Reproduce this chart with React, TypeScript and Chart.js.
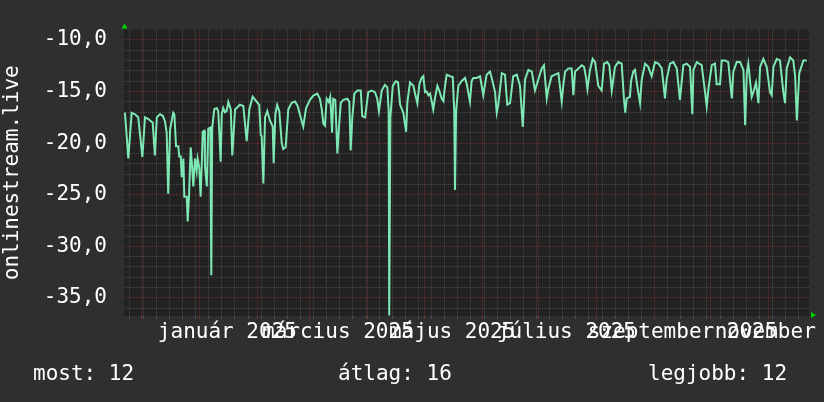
import React, { useEffect, useRef } from 'react';
import { Chart, registerables } from 'chart.js';

Chart.register(...registerables);

// ---- data (days counted from 2025-01-01, values as plotted) ----
const seriesName = 'onlinestream.live';

const sampleDays = [
  -39.7, -37.9, -36.1, -34.3, -32.6, -30.4, -29.0, -27.2, -26.3, -24.9,
  -23.7, -22.7, -21.0, -19.5, -18.3, -17.4, -16.6, -15.6, -14.7, -13.9,
  -13.3, -12.8, -12.4, -11.2, -10.7, -9.9, -9.4, -8.5, -8.0, -6.7,
  -6.2, -5.5, -4.6, -3.9, -3.2, -2.3, -1.4, -0.9, 0, 0.7,
  1.3, 1.8, 2.7, 3.0, 4.0, 4.8, 5.9, 6.4, 6.9, 8.0,
  9.3, 10.1, 10.7, 11.4, 12.0, 12.8, 13.7, 14.6, 15.5,
  16.8, 17.6, 19.1, 21.7, 23.5, 25.3, 26.7, 28.5, 30.6, 32.0,
  32.8, 33.3, 34.2, 35.1, 36.3, 37.7, 39.2, 39.7, 40.6, 41.6,
  42.7, 44.0, 44.8, 46.1, 47.5, 49.3, 51.1, 52.5, 54.1, 55.5,
  57.0, 59.1, 60.9, 63.0, 64.4, 65.4, 66.2, 67.1, 68.0, 69.1,
  69.9, 70.9, 71.5, 72.6, 73.7, 74.6, 75.5, 76.9, 79.0, 80.1,
  80.8, 81.7, 82.8, 84.4, 86.2, 87.0, 88.5, 90.2, 92.0, 93.8,
  95.0, 95.9, 97.4, 99.1, 100.4, 101.1, 101.4, 102.0, 103.3, 104.9,
  106.1,
  107.2, 108.9, 110.4, 111.1, 112.5, 114.3, 115.2, 116.4, 117.5, 118.7,
  119.6, 120.5, 121.4, 122.3, 123.2, 124.1, 124.9, 125.8, 127.1, 128.1,
  129.4, 130.3, 131.2, 132.1, 133.9, 135.3, 136.1, 136.5, 137.1, 138.3,
  140.1, 141.9, 142.8, 144.5, 145.4, 146.3, 148.1, 149.9, 151.6, 153.4,
  155.2, 156.1, 157.9, 158.8, 159.6, 161.5, 163.2, 164.4, 165.9, 167.6,
  169.5, 171.2, 172.7, 173.9, 175.7, 177.5, 179.2, 181.0, 182.8, 184.0,
  185.5, 186.3, 188.1, 189.9, 191.7, 193.5, 194.3, 195.3, 197.0, 198.8,
  199.7, 200.6, 202.4, 204.2, 205.4, 206.5, 207.2, 208.6, 210.0, 211.3,
  213.0, 214.8, 216.1, 217.8, 218.9, 220.2, 221.9, 223.7, 225.5, 226.7,
  227.4, 228.2, 229.9, 230.5, 231.7, 232.6, 233.8, 235.3, 236.2, 238.0,
  239.7, 241.5, 243.3, 245.1, 246.9, 248.6, 249.5, 251.3, 253.1, 254.9,
  256.6, 258.4, 260.2, 262.0, 263.2, 263.8, 265.6, 268.2, 270.0, 270.9,
  271.8, 273.6, 275.3, 276.2, 278.0, 278.9, 280.7, 282.4, 284.3, 285.1,
  286.9, 288.7, 290.5, 291.4, 292.3, 293.1, 294.9, 295.8, 297.2, 298.5,
  299.4, 301.1, 302.9, 304.7, 305.6, 306.5, 308.3, 310.0, 311.8, 312.7,
  313.6, 315.4, 317.1, 318.1, 319.0, 320.3, 322.5, 324.3,
];

const rankValues = [
  -17.05, -21.49, -17.05, -17.2, -17.5, -21.34, -17.5, -17.66, -17.8, -18.0,
  -21.2, -17.5, -17.2, -17.35, -17.9, -19.0, -24.9, -18.7, -17.8, -17.05,
  -17.2, -19.0, -20.3, -20.3, -21.3, -21.3, -23.3, -21.5, -25.2, -25.2,
  -27.6, -25.2, -20.4, -22.1, -24.2, -21.5, -22.7, -21.5, -22.4, -25.2,
  -22.2, -18.9, -18.8, -22.2, -24.2, -18.6, -18.5, -32.8, -18.5, -16.7,
  -16.6, -16.9, -19.0, -21.8, -17.2, -16.6, -17.0, -16.9, -16.0,
  -16.74, -21.2, -16.74, -16.28, -16.4, -19.8, -16.74, -15.5, -15.97, -16.3,
  -19.2, -19.35, -23.9, -17.5, -16.9, -17.8, -18.4, -21.95, -17.2, -16.3,
  -16.9, -19.96, -20.57, -20.4, -16.74, -16.1, -15.97, -16.4, -17.5, -18.4,
  -16.6, -15.8, -15.4, -15.2, -15.7, -16.74, -18.1, -18.3, -15.7, -16.0,
  -15.5, -19.0, -15.7, -15.8, -21.0, -18.4, -16.1, -15.8, -15.7, -16.0,
  -20.7, -17.5, -15.2, -14.9, -14.9, -17.4, -17.5, -15.06, -14.9, -15.06,
  -15.7, -16.9, -14.9, -14.35, -14.6, -16.9, -36.7, -17.5, -14.45, -14.0,
  -14.1,
  -16.28, -17.05, -18.9, -15.98, -14.14, -14.44, -15.21, -16.13, -14.29, -13.68,
  -13.52, -15.06, -15.0, -15.36, -15.21, -15.98, -16.74, -15.67, -14.44, -14.9,
  -15.67, -15.91, -14.44, -13.37, -13.52, -13.59, -16.9, -24.55, -16.9, -14.44,
  -13.98, -13.68, -14.29, -15.98, -13.98, -13.68, -13.68, -13.52, -15.36, -13.37,
  -13.07, -13.68, -15.06, -17.05, -16.28, -13.22, -13.37, -16.28, -16.13, -13.52,
  -13.37, -14.44, -18.43, -13.83, -12.91, -13.07, -14.9, -13.83, -12.76, -12.45,
  -15.67, -14.75, -13.52, -13.37, -13.22, -15.98, -14.44, -13.07, -12.76, -12.76,
  -15.36, -13.07, -12.76, -12.45, -12.61, -13.68, -14.75, -12.91, -11.84, -12.15,
  -14.44, -14.9, -12.3, -12.15, -12.45, -14.9, -12.61, -12.15, -12.3, -15.67,
  -17.05, -15.67, -15.52, -13.98, -13.07, -12.91, -14.44, -16.13, -13.83, -12.3,
  -12.61, -13.52, -12.15, -12.3, -12.76, -15.67, -13.83, -12.3, -12.15, -12.76,
  -15.82, -12.45, -12.3, -12.61, -17.2, -12.91, -12.15, -12.45, -15.06, -16.44,
  -14.75, -12.45, -12.3, -14.29, -14.29, -11.99, -11.99, -12.15, -15.67, -13.07,
  -12.15, -12.15, -12.91, -18.27, -13.22, -12.3, -15.52, -15.06, -14.14, -16.13,
  -12.61, -11.84, -12.61, -15.06, -15.36, -12.61, -11.84, -11.99, -15.06, -16.13,
  -12.76, -11.69, -11.99, -13.52, -17.81, -13.22, -11.99, -11.99,
];

// axis range and tick labels
const xStartDay = -40.2;
const xEndDay = 325.5;
const yBottom = -36.75;
const yTop = -9;
const yMajorValues = [-35, -30, -25, -20, -15, -10];
const yMinorValues = [-36, -34, -33, -32, -31, -29, -28, -27, -26, -24, -23, -22, -21, -19, -18, -17, -16, -14, -13, -12, -11];
const monthStartDates = [
  '2024-12-01', '2025-01-01', '2025-02-01', '2025-03-01', '2025-04-01', '2025-05-01',
  '2025-06-01', '2025-07-01', '2025-08-01', '2025-09-01', '2025-10-01', '2025-11-01',
];
const firstWeekStart = '2024-11-25';
const monthLabelDates = ['2025-01-16', '2025-03-16', '2025-05-16', '2025-07-16', '2025-09-16', '2025-11-16'];
const monthLabelTexts = ['január 2025', 'március 2025', 'május 2025', 'július 2025', 'szeptember 2025', 'november 2025'];

const legendLabels = ['most', 'átlag', 'legjobb'];
const legendValues = [12, 16, 12];

// ---- styles ----
const FONT = '"DejaVu Sans Mono", monospace';
const OUTER_BG = '#2f2f2f';
const PLOT_BG = '#222222';
const LINE_COLOR = '#7ee8b4';
const TEXT_COLOR = '#ffffff';
const GRID_GRAY = 'rgba(128,128,128,0.42)';
const GRID_RED = 'rgba(160,48,48,0.62)';
const ARROW_COLOR = '#00d200';

function dayOf(iso: string): number {
  const [y, m, d] = iso.split('-').map(Number);
  return (Date.UTC(y, m - 1, d) - Date.UTC(2025, 0, 1)) / 86400000;
}

const monthDays = monthStartDates.map(dayOf);
const labelDays = monthLabelDates.map(dayOf);
const labelByDay = new Map<number, string>();
labelDays.forEach((d, i) => labelByDay.set(d, monthLabelTexts[i]));
const monthSet = new Set(monthDays);
const labelSet = new Set(labelDays);

function buildXTicks(): number[] {
  const s = new Set<number>();
  for (let d = dayOf(firstWeekStart); d <= xEndDay; d += 7) s.add(d);
  monthDays.forEach((d) => s.add(d));
  labelDays.forEach((d) => s.add(d));
  return Array.from(s).filter((d) => d >= xStartDay && d <= xEndDay).sort((a, b) => a - b);
}

const yMajorSet = new Set(yMajorValues);
const yTickValues = [...yMajorValues, ...yMinorValues].sort((a, b) => a - b);

const decor = {
  id: 'decor',
  beforeDraw(chart: any) {
    const { ctx, chartArea: a, width, height } = chart;
    ctx.save();
    ctx.fillStyle = OUTER_BG;
    ctx.fillRect(0, 0, width, height);
    ctx.fillStyle = PLOT_BG;
    ctx.fillRect(a.left, a.top, a.right - a.left, a.bottom - a.top);
    ctx.restore();
  },
  afterDraw(chart: any) {
    const { ctx, chartArea: a } = chart;
    ctx.save();
    ctx.fillStyle = ARROW_COLOR;
    const cx = a.left + 0.5;
    ctx.beginPath();
    ctx.moveTo(cx - 3, a.top - 1);
    ctx.lineTo(cx + 3, a.top - 1);
    ctx.lineTo(cx, a.top - 6);
    ctx.closePath();
    ctx.fill();
    const cy = a.bottom - 1;
    ctx.beginPath();
    ctx.moveTo(a.right + 2, cy - 3);
    ctx.lineTo(a.right + 2, cy + 3);
    ctx.lineTo(a.right + 7, cy);
    ctx.closePath();
    ctx.fill();
    ctx.restore();
  },
};

export default function App() {
  const ref = useRef<HTMLCanvasElement>(null);

  useEffect(() => {
    document.body.style.margin = '0';
    document.body.style.background = OUTER_BG;
    const canvas = ref.current;
    if (!canvas) return;
    const xTicks = buildXTicks();
    const font = { family: FONT, size: 21 };
    const chart = new Chart(canvas, {
      type: 'line',
      data: {
        datasets: [
          {
            label: seriesName,
            data: sampleDays.map((d, i) => ({ x: d, y: rankValues[i] })),
            borderColor: LINE_COLOR,
            borderWidth: 2,
            pointRadius: 0,
            tension: 0,
            fill: false,
          },
        ],
      },
      options: {
        responsive: false,
        animation: false,
        devicePixelRatio: 1,
        layout: { padding: { top: 14, right: 15, bottom: 0, left: 0 } },
        plugins: {
          legend: { display: false },
          tooltip: { enabled: false },
          title: { display: false },
        },
        scales: {
          x: {
            type: 'linear',
            min: xStartDay,
            max: xEndDay,
            bounds: 'data',
            afterBuildTicks: (s: any) => {
              s.ticks = xTicks.map((v) => ({ value: v }));
            },
            afterFit: (s: any) => {
              s.height = 86;
            },
            ticks: {
              autoSkip: false,
              maxRotation: 0,
              minRotation: 0,
              padding: 1,
              color: TEXT_COLOR,
              font,
              callback: (v: any) => labelByDay.get(Number(v)) ?? '',
            },
            grid: {
              drawTicks: true,
              tickLength: 3,
              lineWidth: 1,
              color: (c: any) => {
                const v = c.tick ? c.tick.value : NaN;
                if (monthSet.has(v)) return GRID_RED;
                if (labelSet.has(v)) return 'rgba(0,0,0,0)';
                return GRID_GRAY;
              },
            },
            border: { display: false, dash: [1, 1] },
          },
          y: {
            type: 'linear',
            min: yBottom,
            max: yTop,
            bounds: 'data',
            afterBuildTicks: (s: any) => {
              s.ticks = yTickValues.map((v) => ({ value: v }));
            },
            afterFit: (s: any) => {
              s.width = 124;
            },
            ticks: {
              autoSkip: false,
              padding: 17,
              color: TEXT_COLOR,
              font,
              callback: (v: any) => (yMajorSet.has(Number(v)) ? Number(v).toFixed(1).replace('.', ',') : ''),
            },
            grid: {
              drawTicks: false,
              lineWidth: 1,
              color: (c: any) => (c.tick && yMajorSet.has(c.tick.value) ? GRID_RED : GRID_GRAY),
            },
            border: { display: false, dash: [1, 1] },
            title: {
              display: true,
              text: seriesName,
              color: TEXT_COLOR,
              font,
              padding: 0,
            },
          },
        },
      },
      plugins: [decor],
    } as any);
    return () => chart.destroy();
  }, []);

  const legendLefts = [33, 338, 648];

  return (
    <div style={{ position: 'relative', width: 824, height: 402, background: OUTER_BG, overflow: 'hidden' }}>
      <canvas ref={ref} width={824} height={402} style={{ display: 'block', width: 824, height: 402 }} />
      {legendLabels.map((lab, i) => (
        <div
          key={lab}
          style={{
            position: 'absolute',
            left: legendLefts[i],
            top: 363,
            fontFamily: FONT,
            fontSize: 21,
            lineHeight: '21px',
            color: TEXT_COLOR,
            whiteSpace: 'pre',
          }}
        >
          {`${lab}: ${legendValues[i]}`}
        </div>
      ))}
    </div>
  );
}
